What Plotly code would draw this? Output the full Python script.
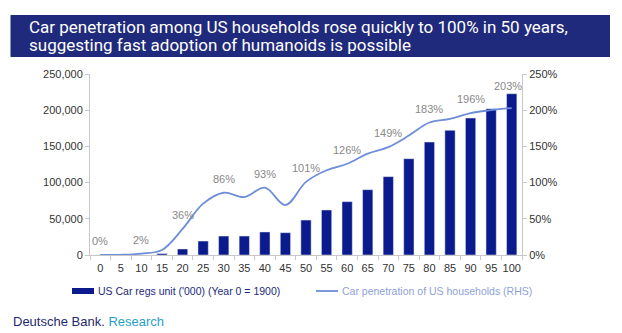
import plotly.graph_objects as go

years = ["0", "5", "10", "15", "20", "25", "30", "35", "40", "45", "50",
         "55", "60", "65", "70", "75", "80", "85", "90", "95", "100"]
car_regs = [0, 0, 0, 2000, 8300, 19300, 26200, 26200, 31800, 30800, 48300,
            62200, 73700, 90200, 108200, 133000, 156000, 172200, 189200, 202100, 222800]
penetration = [0, 0.3, 2, 7, 36, 71, 86, 80, 93, 69, 101,
               117, 126, 140, 149, 165, 183, 188, 196, 200, 203]
pen_labels = ["0%", "", "2%", "", "36%", "", "86%", "", "93%", "", "101%",
              "", "126%", "", "149%", "", "183%", "", "196%", "", "203%"]

title_lines = ["Car penetration among US households rose quickly to 100% in 50 years,",
               "suggesting fast adoption of humanoids is possible"]
bar_name = "US Car regs unit ('000) (Year 0 = 1900)"
line_name = "Car penetration of US households (RHS)"

NAVY = "#0b1a8c"
BANNER = "#1f2a7c"
LINE = "#6e8dd8"
FONT = "Liberation Sans, Arial, sans-serif"
TFONT = "Roboto, Liberation Sans, Arial, sans-serif"

# plot area in pixels
L, R, T, B = 90, 522, 74, 255
W, H = 622, 333


def px(x):
    return (x - L) / (R - L)


def py(y):
    return (B - y) / (B - T)


fig = go.Figure()
fig.add_trace(go.Bar(x=years, y=car_regs, marker_color=NAVY, name=bar_name,
                     showlegend=False, yaxis="y"))
fig.add_trace(go.Scatter(x=years, y=penetration, mode="lines", yaxis="y2",
                         line=dict(color=LINE, width=1.8, shape="spline"),
                         name=line_name, showlegend=False, cliponaxis=False))

shapes = [
    dict(type="rect", xref="paper", yref="paper", x0=px(10.5), x1=px(610),
         y0=py(57), y1=py(15), fillcolor=BANNER, line=dict(width=0), layer="above"),
    # legend symbols
    dict(type="rect", xref="paper", yref="paper", x0=px(72), x1=px(94),
         y0=py(294), y1=py(288), fillcolor=NAVY, line=dict(width=0)),
    dict(type="line", xref="paper", yref="paper", x0=px(316), x1=px(338),
         y0=py(291), y1=py(291), line=dict(color=LINE, width=1.8)),
]

annotations = [
    dict(xref="paper", yref="paper", x=px(27), y=py(27), xanchor="left", yanchor="middle",
         text=title_lines[0], showarrow=False, align="left",
         font=dict(color="white", size=17, family=TFONT)),
    dict(xref="paper", yref="paper", x=px(27), y=py(45), xanchor="left", yanchor="middle",
         text=title_lines[1], showarrow=False, align="left",
         font=dict(color="white", size=17, family=TFONT)),
    dict(xref="paper", yref="paper", x=px(96), y=py(291), xanchor="left", yanchor="middle",
         text=bar_name, showarrow=False, font=dict(color="#1b2a7a", size=10.5, family=FONT)),
    dict(xref="paper", yref="paper", x=px(340), y=py(291), xanchor="left", yanchor="middle",
         text=line_name, showarrow=False, font=dict(color="#8ea2d8", size=10.5, family=FONT)),
    dict(xref="paper", yref="paper", x=px(11), y=py(321), xanchor="left", yanchor="middle",
         text="<span style='color:#1f2a6e'>Deutsche Bank.</span> <span style='color:#2aa0c8'>Research</span>",
         showarrow=False, font=dict(size=13, family=FONT)),
]

# data labels on the penetration line (x given as category index)
for i, lab in enumerate(pen_labels):
    if not lab:
        continue
    last = i == len(pen_labels) - 1
    annotations.append(dict(
        x=i, y=penetration[i], xref="x", yref="y2", text=lab, showarrow=False,
        xanchor="center", yanchor="middle", yshift=22 if last else 14,
        xshift=-4 if last else 0,
        font=dict(color="#888888", size=11, family=FONT)))

axis_common = dict(showgrid=False, zeroline=False, showline=True, linecolor="#c8c8c8",
                   linewidth=1, ticks="outside", ticklen=4, tickcolor="#c8c8c8",
                   tickfont=dict(color="#333333", size=11, family=FONT))

fig.update_layout(
    width=W, height=H,
    margin=dict(l=L, r=W - R, t=T, b=H - B),
    plot_bgcolor="white", paper_bgcolor="white",
    bargap=0.5,
    xaxis=dict(type="category", tickson="boundaries", tickangle=0, ticklabelstandoff=3,
               range=[-0.5, len(years) - 0.5], **axis_common),
    yaxis=dict(range=[0, 250000], dtick=50000, tickformat=",d", **axis_common),
    yaxis2=dict(range=[0, 250], dtick=50, ticksuffix="%", overlaying="y", side="right",
                **axis_common),
    shapes=shapes, annotations=annotations,
    font=dict(family=FONT),
)

fig.write_html("out.html")
